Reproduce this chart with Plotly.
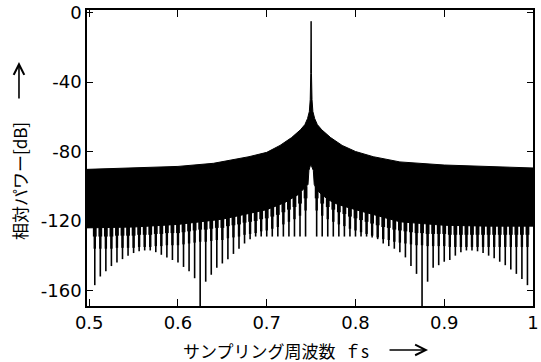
import plotly.graph_objects as go

# ---------------- data ----------------
# upper envelope of the dense spectrum (dB)
upper_x = [0.4975, 0.55, 0.60, 0.64, 0.68, 0.70, 0.715, 0.728, 0.738, 0.743, 0.746, 0.748,
           0.749, 0.7496, 0.75, 0.7504, 0.751, 0.752, 0.754, 0.757, 0.762, 0.772, 0.785,
           0.80, 0.82, 0.85, 0.90, 0.95, 1.0]
upper_y = [-90.3, -89.6, -88.6, -86.8, -83, -80.5, -76.5, -72, -67.5, -64.5, -61, -57,
           -50, -35, -5, -35, -50, -57, -61, -64.5, -67.5, -72, -76.5,
           -80, -83, -86, -87.8, -88.8, -89.5]

# lower edge of the solid black band (dB), incl. the notch at the centre
lower_x = [0.4975, 0.55, 0.60, 0.65, 0.70, 0.72, 0.735, 0.742, 0.7465, 0.7475, 0.749,
           0.750, 0.751, 0.7525, 0.7535, 0.756, 0.76, 0.77, 0.78, 0.80, 0.85, 0.90, 0.95, 1.0]
lower_y = [-124, -123.5, -122, -119, -113.5, -109.5, -105, -101.5, -99, -91, -88.3,
           -87.8, -88.3, -91, -99, -101.5, -104, -108, -110.5, -113.5, -120.5, -122.5, -123, -123]

# the comb of deep nulls hanging below the band
spike_x = [0.50625, 0.5125, 0.51875, 0.525, 0.53125, 0.5375, 0.54375, 0.55, 0.55625, 0.5625,
           0.56875, 0.575, 0.58125, 0.5875, 0.59375, 0.6, 0.60625, 0.6125, 0.61875, 0.625,
           0.63125, 0.6375, 0.64375, 0.65, 0.65625, 0.6625, 0.66875, 0.675, 0.68125, 0.6875,
           0.69375, 0.7, 0.70625, 0.7125, 0.71875, 0.725, 0.73125, 0.7375, 0.74375,
           0.75625, 0.7625, 0.76875, 0.775, 0.78125, 0.7875, 0.79375, 0.8, 0.80625, 0.8125,
           0.81875, 0.825, 0.83125, 0.8375, 0.84375, 0.85, 0.85625, 0.8625, 0.86875, 0.875,
           0.88125, 0.8875, 0.89375, 0.9, 0.90625, 0.9125, 0.91875, 0.925, 0.93125, 0.9375,
           0.94375, 0.95, 0.95625, 0.9625, 0.96875, 0.975, 0.98125, 0.9875, 0.99375]
spike_top = [-124, -124, -124, -124, -123.5, -123.5, -123.5, -123.5, -123, -123,
             -123, -122.5, -122.5, -122, -122, -122, -121.5, -121, -120.5, -120,
             -120, -119.5, -119, -119, -118, -117.5, -117, -116, -115.5, -115,
             -114, -113.5, -112.5, -111.5, -110, -108.5, -107, -105, -102,
             -102, -105, -107, -108.5, -110, -111, -112.5, -113.5, -114.5, -115.5,
             -116.5, -117.5, -118.5, -119, -120, -120.5, -121, -121.5, -122, -122,
             -122.5, -122.5, -122.5, -122.5, -123, -123, -123, -123, -123, -123,
             -123, -123, -123, -123, -123, -123, -123, -123, -123]
spike_bottom = [-157, -152, -149, -146, -144, -142, -140, -138.5, -137.5, -137,
                -137, -138, -139.5, -141, -142.5, -144, -146.5, -149, -153, -169,
                -155, -151, -147, -144.5, -142, -139, -136, -133, -130.5, -129,
                -129, -129, -129, -129, -129, -129, -129, -129, -129,
                -129, -129, -129, -129, -129, -129, -129, -129, -129, -129,
                -129.5, -130.5, -133, -134.5, -136, -138, -141, -146, -150.5, -169,
                -155, -147, -145.5, -143.5, -142.5, -140, -138, -137, -137, -137.5,
                -138.5, -140, -141.5, -143.5, -145.5, -148, -150.5, -153.5, -157]

x_ticks = [0.5, 0.6, 0.7, 0.8, 0.9, 1.0]
x_tick_text = ["0.5", "0.6", "0.7", "0.8", "0.9", "1"]
y_ticks = [0, -40, -80, -120, -160]
y_tick_text = ["0", "-40", "-80", "-120", "-160"]

x_title = "サンプリング周波数\u2002ｆs"
y_title = "相対パワー[dB]"

# ---------------- figure ----------------
fig = go.Figure()

band_x = upper_x + lower_x[::-1] + [upper_x[0]]
band_y = upper_y + lower_y[::-1] + [upper_y[0]]
fig.add_trace(go.Scatter(x=band_x, y=band_y, mode="lines", fill="toself",
                         fillcolor="black", line=dict(color="black", width=1),
                         hoverinfo="skip", showlegend=False))

def seg(depth_limit):
    xs, ys = [], []
    for x, t, b in zip(spike_x, spike_top, spike_bottom):
        end = b if depth_limit is None else max(b, t - depth_limit)
        xs += [x, x, None]
        ys += [t + 2, end, None]
    return xs, ys

for lim, w in [(None, 1.6), (12, 2.4), (5, 3.8)]:
    sx, sy = seg(lim)
    fig.add_trace(go.Scatter(x=sx, y=sy, mode="lines",
                             line=dict(color="black", width=w),
                             hoverinfo="skip", showlegend=False))

axis_common = dict(showline=True, linecolor="black", linewidth=1.5, mirror="ticks",
                   ticks="inside", tickcolor="black", tickwidth=1.3,
                   showgrid=False, zeroline=False, automargin=False,
                   ticklabeloverflow="allow",
                   tickfont=dict(family="DejaVu Sans", size=18, color="black"))

cjk = dict(family="Noto Sans CJK JP", color="black")
arrow_style = dict(showarrow=True, arrowhead=5, arrowsize=1.3, arrowwidth=1.6,
                   arrowcolor="black", xref="paper", yref="paper", text="")

fig.update_layout(
    width=541, height=362,
    margin=dict(l=87, r=8, t=10, b=56),
    paper_bgcolor="white", plot_bgcolor="white",
    xaxis=dict(range=[0.4975, 1.0], tickvals=x_ticks, ticktext=x_tick_text,
               ticklen=7, **axis_common),
    yaxis=dict(range=[-169, 1.5], tickvals=y_ticks, ticktext=y_tick_text,
               ticklen=6, **axis_common),
    annotations=[
        dict(text=x_title, xref="paper", yref="paper",
             x=0.211, y=0, xanchor="left", yanchor="middle", yshift=-44,
             showarrow=False, font=dict(size=17, **cjk)),
        dict(x=0.7646, y=-0.1486, ax=-40, ay=0, **arrow_style),
        dict(text=y_title, xref="paper", yref="paper",
             x=0, y=0.422, xanchor="center", yanchor="middle", xshift=-68,
             textangle=-90, showarrow=False, font=dict(size=17, **cjk)),
        dict(x=-0.1525, y=0.8243, ax=0, ay=38, **arrow_style),
    ],
)

# remove the browser's default 8px page margin so the figure fills the window
fig.write_html("out.html", config={"displayModeBar": False},
               post_script="document.body.style.margin='0px';")
